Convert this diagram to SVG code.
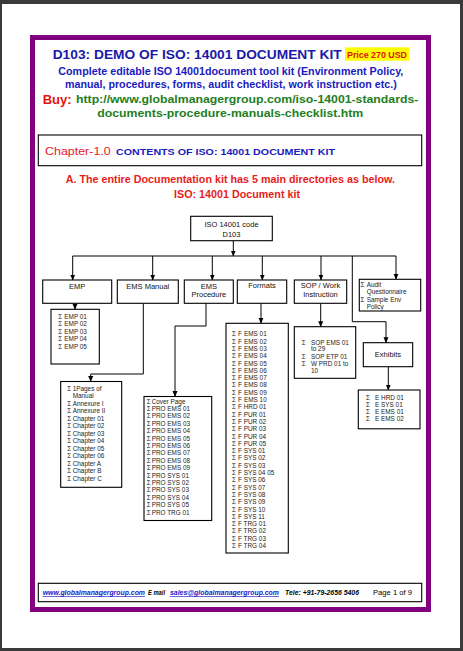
<svg xmlns="http://www.w3.org/2000/svg" width="463" height="651" viewBox="0 0 463 651">
<style>
.box{fill:#fff;stroke:#000;stroke-width:1.1}
.lbl{font-family:"Liberation Sans",Arial,sans-serif;font-size:7.5px;fill:#111;text-anchor:middle}
.it{font-family:"Liberation Sans",Arial,sans-serif;font-size:6.4px;fill:#222}
.con{fill:none;stroke:#000;stroke-width:1}
.arr{marker-end:url(#ah)}
.hd{font-family:"Liberation Sans",Arial,sans-serif;font-weight:bold}
.ft{font-family:"Liberation Sans",Arial,sans-serif;font-size:6.5px;font-weight:bold;font-style:italic}
</style>
<defs>
<marker id="ah" markerUnits="userSpaceOnUse" markerWidth="6" markerHeight="6" refX="5.5" refY="3" orient="auto">
<path d="M0,0.5 L6,3 L0,5.5 z" fill="#000"/>
</marker>
</defs>
<rect x="0" y="0" width="463" height="651" fill="#3a3a3a"/>
<rect x="2" y="4" width="458" height="644" fill="#fff"/>
<rect x="32.5" y="37.5" width="396" height="572" fill="none" stroke="#800080" stroke-width="5"/>

<g id="header">
<text class="hd" x="52.7" y="58.7" font-size="13" fill="#1a1aa8" textLength="289" lengthAdjust="spacingAndGlyphs">D103: DEMO OF ISO: 14001 DOCUMENT KIT</text>
<rect x="345" y="47.3" width="64.3" height="13.4" fill="#ffff00"/>
<text class="hd" x="347" y="58.3" font-size="9" fill="#e01010" textLength="60" lengthAdjust="spacingAndGlyphs">Price 270 USD</text>
<text class="hd" x="58.3" y="75" font-size="10.5" fill="#1a1ac0" textLength="345" lengthAdjust="spacingAndGlyphs">Complete editable ISO 14001document tool kit (Environment Policy,</text>
<text class="hd" x="65" y="87.7" font-size="10.5" fill="#1a1ac0" textLength="331.7" lengthAdjust="spacingAndGlyphs">manual, procedures, forms, audit checklist, work instruction etc.)</text>
<text class="hd" x="42.7" y="103.5" font-size="13.5" fill="#e81010" textLength="29" lengthAdjust="spacingAndGlyphs">Buy:</text>
<text class="hd" x="76" y="103.3" font-size="11.5" fill="#1e7e22" textLength="342.3" lengthAdjust="spacingAndGlyphs">http://www.globalmanagergroup.com/iso-14001-standards-</text>
<text class="hd" x="97.3" y="116.7" font-size="11.5" fill="#1e7e22" textLength="266" lengthAdjust="spacingAndGlyphs">documents-procedure-manuals-checklist.htm</text>
</g>

<g id="chapter">
<rect x="38.3" y="135" width="383.4" height="30.7" fill="#fff" stroke="#000" stroke-width="1.1"/>
<text x="45" y="155" font-family="Liberation Sans, Arial, sans-serif" font-size="11" fill="#e8202a" textLength="65.7" lengthAdjust="spacingAndGlyphs">Chapter-1.0</text>
<text class="hd" x="116" y="155" font-size="9.5" fill="#1a1ac0" textLength="219" lengthAdjust="spacingAndGlyphs">CONTENTS OF ISO: 14001 DOCUMENT KIT</text>
<text class="hd" x="65.7" y="183.3" font-size="10.5" fill="#e81c1c" textLength="329.3" lengthAdjust="spacingAndGlyphs">A. The entire Documentation kit has 5 main directories as below.</text>
<text class="hd" x="174" y="197.7" font-size="10.5" fill="#e81c1c" textLength="126" lengthAdjust="spacingAndGlyphs">ISO: 14001 Document kit</text>
</g>

<g id="connectors">
<path class="con arr" d="M233.3,240.7 V256"/>
<path class="con" d="M72.7,256 H396"/>
<path class="con arr" d="M72.7,256 V280"/>
<path class="con arr" d="M152.7,256 V280"/>
<path class="con arr" d="M212.3,256 V280"/>
<path class="con arr" d="M262.3,256 V280"/>
<path class="con arr" d="M321,256 V280"/>
<path class="con arr" d="M396,256 V279.3"/>
<path class="con arr" d="M352.3,256 V321.7 H386 V342.7"/>
<path class="con arr" d="M75,303.3 V309.3"/>
<path class="con arr" d="M143.3,303.3 V374 H90.7 V381.5"/>
<path class="con arr" d="M206,303.3 V326 H175 V396.5"/>
<path class="con arr" d="M261,303.3 V323.3"/>
<path class="con arr" d="M320.7,303.3 V326.7"/>
<path class="con arr" d="M388.3,366.7 V390"/>
</g>

<g id="root">
<rect class="box" x="190.7" y="216.3" width="81.6" height="24.4"/>
<text class="lbl" x="231.5" y="227.3">ISO 14001 code</text>
<text class="lbl" x="231.5" y="236.7">D103</text>
</g>

<g id="emp">
<rect class="box" x="42.7" y="280" width="69" height="23.3"/>
<text class="lbl" x="77.2" y="289.3">EMP</text>
</g>
<g id="ems-manual">
<rect class="box" x="117.3" y="280" width="61" height="23.3"/>
<text class="lbl" x="147.8" y="289.3">EMS Manual</text>
</g>
<g id="ems-procedure">
<rect class="box" x="184.3" y="280" width="49" height="23.3"/>
<text class="lbl" x="208.8" y="289">EMS</text>
<text class="lbl" x="208.8" y="297.3">Procedure</text>
</g>
<g id="formats">
<rect class="box" x="237.3" y="280" width="49.4" height="23.3"/>
<text class="lbl" x="262" y="288.3">Formats</text>
</g>
<g id="sop">
<rect class="box" x="294.3" y="280" width="52.4" height="23.3"/>
<text class="lbl" x="320.5" y="288.3">SOP / Work</text>
<text class="lbl" x="320.5" y="296.7">Instruction</text>
</g>
<g id="audit">
<rect class="box" x="359.3" y="279.3" width="61.4" height="31.7"/>
<text class="it" x="360.5" y="286.5">Σ</text><text class="it" x="366.7" y="286.5">Audit</text>
<text class="it" x="366.7" y="294">Questionnaire</text>
<text class="it" x="360.5" y="301.5">Σ</text><text class="it" x="366.7" y="301.5">Sample Env</text>
<text class="it" x="366.7" y="309">Policy</text>
</g>
<g id="exhibits">
<rect class="box" x="363.3" y="342.7" width="49.4" height="24"/>
<text class="lbl" x="388" y="357.3">Exhibits</text>
</g>

<g id="emp-list">
<rect class="box" x="51" y="309.3" width="48.3" height="54.7"/>
<text class="it"><tspan x="58.3" y="318.5">Σ</tspan><tspan x="64.3" y="318.5">EMP 01</tspan></text>
<text class="it"><tspan x="58.3" y="326.1">Σ</tspan><tspan x="64.3" y="326.1">EMP 02</tspan></text>
<text class="it"><tspan x="58.3" y="333.7">Σ</tspan><tspan x="64.3" y="333.7">EMP 03</tspan></text>
<text class="it"><tspan x="58.3" y="341.3">Σ</tspan><tspan x="64.3" y="341.3">EMP 04</tspan></text>
<text class="it"><tspan x="58.3" y="348.9">Σ</tspan><tspan x="64.3" y="348.9">EMP 05</tspan></text>
</g>

<g id="manual-list">
<rect class="box" x="60.7" y="381.5" width="61" height="105.8"/>
<text class="it"><tspan x="67.3" y="390.6">Σ</tspan><tspan x="72.7" y="390.6">1Pages of</tspan></text>
<text class="it" x="72.7" y="397.5">Manual</text>
<text class="it"><tspan x="67.3" y="405.6">Σ</tspan><tspan x="72.7" y="405.6">Annexure I</tspan></text>
<text class="it"><tspan x="67.3" y="413.1">Σ</tspan><tspan x="72.7" y="413.1">Annexure II</tspan></text>
<text class="it"><tspan x="67.3" y="420.6">Σ</tspan><tspan x="72.7" y="420.6">Chapter 01</tspan></text>
<text class="it"><tspan x="67.3" y="428.1">Σ</tspan><tspan x="72.7" y="428.1">Chapter 02</tspan></text>
<text class="it"><tspan x="67.3" y="435.6">Σ</tspan><tspan x="72.7" y="435.6">Chapter 03</tspan></text>
<text class="it"><tspan x="67.3" y="443.1">Σ</tspan><tspan x="72.7" y="443.1">Chapter 04</tspan></text>
<text class="it"><tspan x="67.3" y="450.6">Σ</tspan><tspan x="72.7" y="450.6">Chapter 05</tspan></text>
<text class="it"><tspan x="67.3" y="458.1">Σ</tspan><tspan x="72.7" y="458.1">Chapter 06</tspan></text>
<text class="it"><tspan x="67.3" y="465.6">Σ</tspan><tspan x="72.7" y="465.6">Chapter A</tspan></text>
<text class="it"><tspan x="67.3" y="473.1">Σ</tspan><tspan x="72.7" y="473.1">Chapter B</tspan></text>
<text class="it"><tspan x="67.3" y="480.6">Σ</tspan><tspan x="72.7" y="480.6">Chapter C</tspan></text>
</g>

<g id="procedure-list">
<rect class="box" x="144" y="396.5" width="67.7" height="124"/>
<text class="it"><tspan x="146.7" y="403.5">Σ</tspan><tspan x="151.7" y="403.5">Cover Page</tspan></text>
<text class="it"><tspan x="146.7" y="410.9">Σ</tspan><tspan x="151.7" y="410.9">PRO EMS 01</tspan></text>
<text class="it"><tspan x="146.7" y="418.3">Σ</tspan><tspan x="151.7" y="418.3">PRO EMS 02</tspan></text>
<text class="it"><tspan x="146.7" y="425.7">Σ</tspan><tspan x="151.7" y="425.7">PRO EMS 03</tspan></text>
<text class="it"><tspan x="146.7" y="433.1">Σ</tspan><tspan x="151.7" y="433.1">PRO EMS 04</tspan></text>
<text class="it"><tspan x="146.7" y="440.5">Σ</tspan><tspan x="151.7" y="440.5">PRO EMS 05</tspan></text>
<text class="it"><tspan x="146.7" y="447.9">Σ</tspan><tspan x="151.7" y="447.9">PRO EMS 06</tspan></text>
<text class="it"><tspan x="146.7" y="455.3">Σ</tspan><tspan x="151.7" y="455.3">PRO EMS 07</tspan></text>
<text class="it"><tspan x="146.7" y="462.7">Σ</tspan><tspan x="151.7" y="462.7">PRO EMS 08</tspan></text>
<text class="it"><tspan x="146.7" y="470.1">Σ</tspan><tspan x="151.7" y="470.1">PRO EMS 09</tspan></text>
<text class="it"><tspan x="146.7" y="477.5">Σ</tspan><tspan x="151.7" y="477.5">PRO SYS 01</tspan></text>
<text class="it"><tspan x="146.7" y="484.9">Σ</tspan><tspan x="151.7" y="484.9">PRO SYS 02</tspan></text>
<text class="it"><tspan x="146.7" y="492.3">Σ</tspan><tspan x="151.7" y="492.3">PRO SYS 03</tspan></text>
<text class="it"><tspan x="146.7" y="499.7">Σ</tspan><tspan x="151.7" y="499.7">PRO SYS 04</tspan></text>
<text class="it"><tspan x="146.7" y="507.1">Σ</tspan><tspan x="151.7" y="507.1">PRO SYS 05</tspan></text>
<text class="it"><tspan x="146.7" y="514.5">Σ</tspan><tspan x="151.7" y="514.5">PRO TRG 01</tspan></text>
</g>

<g id="formats-list">
<rect class="box" x="226" y="323.3" width="62.3" height="229.7"/>
<g class="it">
<text><tspan x="232" y="336.3">Σ</tspan><tspan x="238" y="336.3">F</tspan><tspan x="244" y="336.3">EMS 01</tspan></text>
<text><tspan x="232" y="343.6">Σ</tspan><tspan x="238" y="343.6">F</tspan><tspan x="244" y="343.6">EMS 02</tspan></text>
<text><tspan x="232" y="350.9">Σ</tspan><tspan x="238" y="350.9">F</tspan><tspan x="244" y="350.9">EMS 03</tspan></text>
<text><tspan x="232" y="358.2">Σ</tspan><tspan x="238" y="358.2">F</tspan><tspan x="244" y="358.2">EMS 04</tspan></text>
<text><tspan x="232" y="365.5">Σ</tspan><tspan x="238" y="365.5">F</tspan><tspan x="244" y="365.5">EMS 05</tspan></text>
<text><tspan x="232" y="372.8">Σ</tspan><tspan x="238" y="372.8">F</tspan><tspan x="244" y="372.8">EMS 06</tspan></text>
<text><tspan x="232" y="380.1">Σ</tspan><tspan x="238" y="380.1">F</tspan><tspan x="244" y="380.1">EMS 07</tspan></text>
<text><tspan x="232" y="387.4">Σ</tspan><tspan x="238" y="387.4">F</tspan><tspan x="244" y="387.4">EMS 08</tspan></text>
<text><tspan x="232" y="394.7">Σ</tspan><tspan x="238" y="394.7">F</tspan><tspan x="244" y="394.7">EMS 09</tspan></text>
<text><tspan x="232" y="402">Σ</tspan><tspan x="238" y="402">F</tspan><tspan x="244" y="402">EMS 10</tspan></text>
<text><tspan x="232" y="409.3">Σ</tspan><tspan x="238" y="409.3">F HRD 01</tspan></text>
<text><tspan x="232" y="416.6">Σ</tspan><tspan x="238" y="416.6">F PUR 01</tspan></text>
<text><tspan x="232" y="423.9">Σ</tspan><tspan x="238" y="423.9">F PUR 02</tspan></text>
<text><tspan x="232" y="431.2">Σ</tspan><tspan x="238" y="431.2">F PUR 03</tspan></text>
<text><tspan x="232" y="438.5">Σ</tspan><tspan x="238" y="438.5">F PUR 04</tspan></text>
<text><tspan x="232" y="445.8">Σ</tspan><tspan x="238" y="445.8">F PUR 05</tspan></text>
<text><tspan x="232" y="453.1">Σ</tspan><tspan x="238" y="453.1">F SYS 01</tspan></text>
<text><tspan x="232" y="460.4">Σ</tspan><tspan x="238" y="460.4">F SYS 02</tspan></text>
<text><tspan x="232" y="467.7">Σ</tspan><tspan x="238" y="467.7">F SYS 03</tspan></text>
<text><tspan x="232" y="475">Σ</tspan><tspan x="238" y="475">F SYS 04 05</tspan></text>
<text><tspan x="232" y="482.3">Σ</tspan><tspan x="238" y="482.3">F SYS 06</tspan></text>
<text><tspan x="232" y="489.6">Σ</tspan><tspan x="238" y="489.6">F SYS 07</tspan></text>
<text><tspan x="232" y="496.9">Σ</tspan><tspan x="238" y="496.9">F SYS 08</tspan></text>
<text><tspan x="232" y="504.2">Σ</tspan><tspan x="238" y="504.2">F SYS 09</tspan></text>
<text><tspan x="232" y="511.5">Σ</tspan><tspan x="238" y="511.5">F SYS 10</tspan></text>
<text><tspan x="232" y="518.8">Σ</tspan><tspan x="238" y="518.8">F SYS 11</tspan></text>
<text><tspan x="232" y="526.1">Σ</tspan><tspan x="238" y="526.1">F TRG 01</tspan></text>
<text><tspan x="232" y="533.4">Σ</tspan><tspan x="238" y="533.4">F TRG 02</tspan></text>
<text><tspan x="232" y="540.7">Σ</tspan><tspan x="238" y="540.7">F TRG 03</tspan></text>
<text><tspan x="232" y="548">Σ</tspan><tspan x="238" y="548">F TRG 04</tspan></text>
</g>
</g>

<g id="sop-list">
<rect class="box" x="294.3" y="326.7" width="61.4" height="51.6"/>
<text class="it"><tspan x="301.7" y="344.6">Σ</tspan><tspan x="311" y="344.6">SOP EMS 01</tspan></text>
<text class="it" x="311" y="351.3">to 29</text>
<text class="it"><tspan x="301.7" y="359">Σ</tspan><tspan x="311" y="359">SOP ETP 01</tspan></text>
<text class="it"><tspan x="301.7" y="365.6">Σ</tspan><tspan x="311" y="365.6">W PRD 01 to</tspan></text>
<text class="it" x="311" y="373">10</text>
</g>

<g id="exhibits-list">
<rect class="box" x="358.3" y="390" width="61.7" height="38.8"/>
<text class="it"><tspan x="366" y="400">Σ</tspan><tspan x="375" y="400">E HRD 01</tspan></text>
<text class="it"><tspan x="366" y="406.8">Σ</tspan><tspan x="375" y="406.8">E SYS 01</tspan></text>
<text class="it"><tspan x="366" y="414.4">Σ</tspan><tspan x="375" y="414.4">E EMS 01</tspan></text>
<text class="it"><tspan x="366" y="421.3">Σ</tspan><tspan x="375" y="421.3">E EMS 02</tspan></text>
</g>

<g id="footer">
<rect x="38.3" y="583.3" width="383.4" height="18.4" fill="#fff" stroke="#000" stroke-width="1.1"/>
<text class="ft" x="42.7" y="595" fill="#1a1ac8" text-decoration="underline" textLength="102.3" lengthAdjust="spacingAndGlyphs">www.globalmanagergroup.com</text>
<text class="ft" x="148" y="595" fill="#000" textLength="17" lengthAdjust="spacingAndGlyphs">E mail</text>
<text class="ft" x="170" y="595" fill="#1a1ac8" text-decoration="underline" textLength="109" lengthAdjust="spacingAndGlyphs">sales@globalmanagergroup.com</text>
<text class="ft" x="285" y="595" fill="#000" textLength="74" lengthAdjust="spacingAndGlyphs">Tele: +91-79-2656 5406</text>
<text x="373" y="595" font-family="Liberation Sans, Arial, sans-serif" font-size="8" fill="#000" textLength="39" lengthAdjust="spacingAndGlyphs">Page 1 of 9</text>
</g>
</svg>
